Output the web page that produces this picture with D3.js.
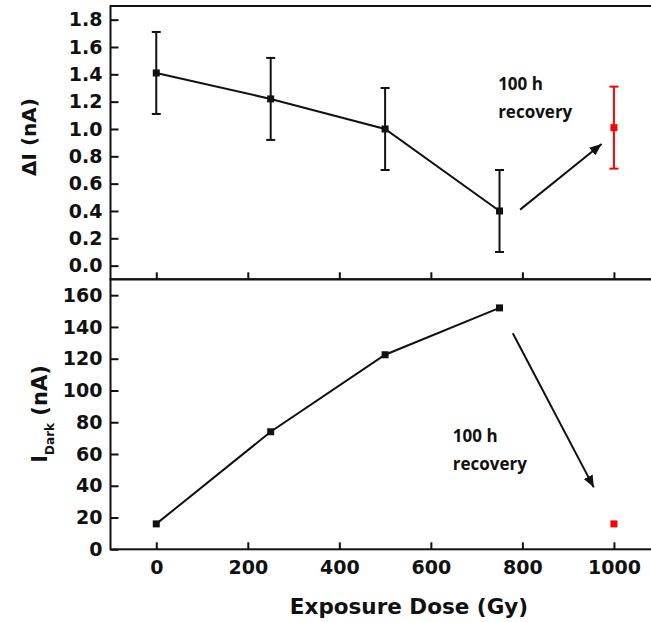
<!DOCTYPE html>
<html>
<head>
<meta charset="utf-8">
<script src="https://cdn.jsdelivr.net/npm/d3@7"></script>
<style>
  body { margin: 0; background: #fff; }
  svg { display: block; }
  .tick text { font-family: 'DejaVu Sans', sans-serif; font-weight: bold; font-size: 19px; fill: #111; }
  .tick line { stroke: #111; stroke-width: 2; }
  .title { font-family: 'DejaVu Sans', sans-serif; font-weight: bold; fill: #111; }
  .note { font-family: 'Open Sans', sans-serif; font-weight: bold; font-size: 17px; fill: #111; }
</style>
</head>
<body>
<svg id="chart" width="651" height="622"></svg>
<script>
// exposure dose (Gy) of the irradiated samples
const doses = [0, 250, 500, 750];
// photocurrent change (nA) and its error
const deltaI = [1.41, 1.22, 1.0, 0.4];
const deltaIErr = [0.3, 0.3, 0.3, 0.3];
// dark current (nA)
const darkI = [16, 74, 122.5, 152];

// after 100 h recovery (drawn in red)
const recoveryDose = [1000];
const recoveryDeltaI = [1.01];
const recoveryDeltaIErr = [0.3];
const recoveryDarkI = [16];

const doseTicks = [0, 200, 400, 600, 800, 1000];
const deltaITicks = [0.0, 0.2, 0.4, 0.6, 0.8, 1.0, 1.2, 1.4, 1.6, 1.8];
const darkITicks = [0, 20, 40, 60, 80, 100, 120, 140, 160];

// annotation arrows (start, tip) and text anchors, in data units
const topArrow = [[795, 0.41], [973, 0.89]];
const bottomArrow = [[779, 136], [956, 39]];
const noteLines = ['100 h', 'recovery'];
const topNote = [747, 1.286];
const bottomNote = [648, 67.6];

const svg = d3.select('#chart');

const x = d3.scaleLinear().domain([-100, 1100]).range([110.5, 659.7]);
const yTop = d3.scaleLinear().domain([-0.1, 1.9]).range([279.3, 6]);
const yBot = d3.scaleLinear().domain([0, 170]).range([549.3, 279.3]);

svg.append('defs').append('marker')
  .attr('id', 'head')
  .attr('viewBox', '0 0 12 10')
  .attr('refX', 12)
  .attr('refY', 5)
  .attr('markerWidth', 12)
  .attr('markerHeight', 10)
  .attr('markerUnits', 'userSpaceOnUse')
  .attr('orient', 'auto')
  .append('path')
  .attr('d', 'M0,0L12,5L0,10Z')
  .attr('fill', '#111');

function drawPanel (y, ticks, fmt, showDose) {
  let g = svg.append('g');

  g.append('g')
    .attr('transform', 'translate(' + x.range()[0] + ',0)')
    .call(d3.axisLeft(y).tickValues(ticks).tickFormat(fmt).tickSize(-8).tickPadding(8))
    .call(a => a.select('.domain').remove());

  // the upper panel shares the dose axis, so only its ticks are kept
  g.append('g')
    .attr('transform', 'translate(0,' + y.range()[0] + ')')
    .call(d3.axisBottom(x).tickValues(doseTicks)
      .tickFormat(showDose ? d3.format('d') : '')
      .tickSize(-7).tickPadding(11))
    .call(a => a.select('.domain').remove());

  g.append('rect')
    .attr('x', x.range()[0])
    .attr('y', y.range()[1])
    .attr('width', x.range()[1] - x.range()[0])
    .attr('height', y.range()[0] - y.range()[1])
    .attr('fill', 'none')
    .attr('stroke', '#111')
    .attr('stroke-width', 2);
  return g;
}

function drawSeries (g, xs, ys, errs, y, color, joined) {
  let pts = xs.map((d, i) => ({ x: d, y: ys[i], e: errs ? errs[i] : 0 }));
  if (joined) {
    g.append('path')
      .datum(pts)
      .attr('fill', 'none')
      .attr('stroke', color)
      .attr('stroke-width', 2)
      .attr('d', d3.line().x(d => x(d.x)).y(d => y(d.y)));
  }
  if (errs) {
    let bars = g.selectAll(null).data(pts).enter().append('g')
      .attr('stroke', color)
      .attr('stroke-width', 2);
    bars.append('line')
      .attr('x1', d => x(d.x)).attr('x2', d => x(d.x))
      .attr('y1', d => y(d.y - d.e)).attr('y2', d => y(d.y + d.e));
    [-1, 1].forEach(s => {
      bars.append('line')
        .attr('x1', d => x(d.x) - 4.5).attr('x2', d => x(d.x) + 4.5)
        .attr('y1', d => y(d.y + s * d.e)).attr('y2', d => y(d.y + s * d.e));
    });
  }
  g.selectAll(null).data(pts).enter().append('rect')
    .attr('x', d => x(d.x) - 3.5)
    .attr('y', d => y(d.y) - 3.5)
    .attr('width', 7)
    .attr('height', 7)
    .attr('fill', color);
}

function drawNote (g, y, arrow, anchor) {
  g.append('line')
    .attr('x1', x(arrow[0][0])).attr('y1', y(arrow[0][1]))
    .attr('x2', x(arrow[1][0])).attr('y2', y(arrow[1][1]))
    .attr('stroke', '#111')
    .attr('stroke-width', 2)
    .attr('marker-end', 'url(#head)');
  g.append('text')
    .attr('class', 'note')
    .selectAll('tspan').data(noteLines).enter().append('tspan')
    .attr('x', x(anchor[0]))
    .attr('y', (d, i) => y(anchor[1]) + i * 28)
    .text(d => d);
}

let topPanel = drawPanel(yTop, deltaITicks, d3.format('.1f'), false);
drawSeries(topPanel, doses, deltaI, deltaIErr, yTop, '#111', true);
drawSeries(topPanel, recoveryDose, recoveryDeltaI, recoveryDeltaIErr, yTop, '#ff0000', false);
drawNote(topPanel, yTop, topArrow, topNote);

let bottomPanel = drawPanel(yBot, darkITicks, d3.format('d'), true);
drawSeries(bottomPanel, doses, darkI, null, yBot, '#111', true);
drawSeries(bottomPanel, recoveryDose, recoveryDarkI, null, yBot, '#ff0000', false);
drawNote(bottomPanel, yBot, bottomArrow, bottomNote);

// axis titles
svg.append('text')
  .attr('class', 'title')
  .attr('transform', 'translate(36,137) rotate(-90)')
  .attr('text-anchor', 'middle')
  .attr('font-size', 20)
  .text('\u0394I (nA)');

let yt = svg.append('text')
  .attr('class', 'title')
  .attr('transform', 'translate(47,414) rotate(-90)')
  .attr('text-anchor', 'middle')
  .attr('font-size', 21);
yt.append('tspan').text('I');
yt.append('tspan').attr('font-size', 12).attr('dy', 7).text('Dark');
yt.append('tspan').attr('dy', -7).text(' (nA)');

svg.append('text')
  .attr('class', 'title')
  .attr('x', 409)
  .attr('y', 614)
  .attr('text-anchor', 'middle')
  .attr('font-size', 21.5)
  .text('Exposure Dose (Gy)');
</script>
</body>
</html>
